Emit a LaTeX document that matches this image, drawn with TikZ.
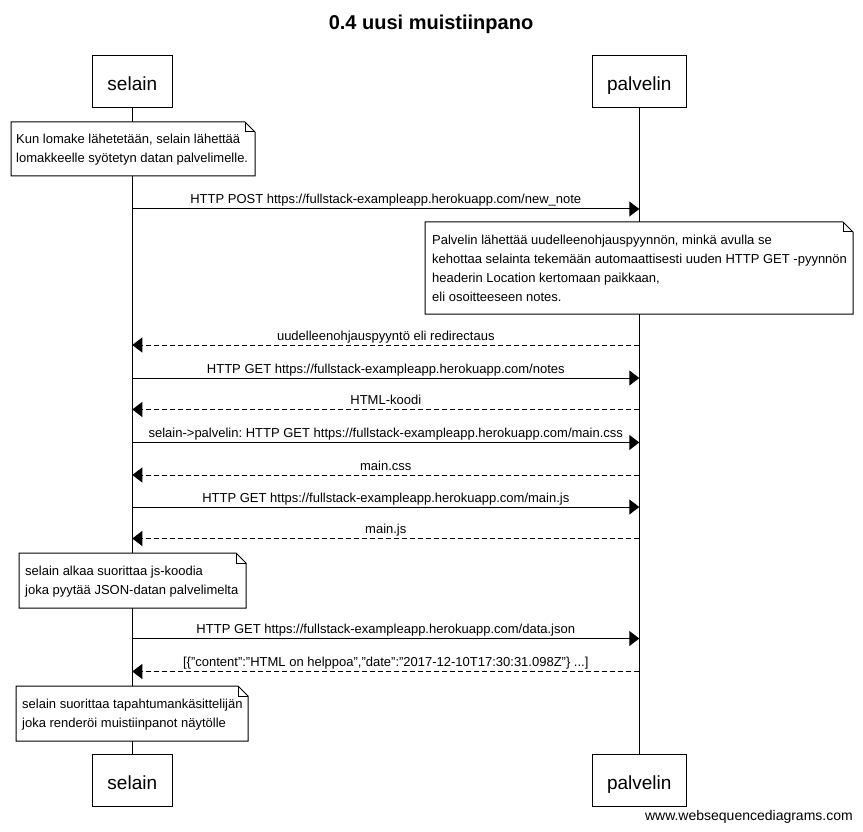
\documentclass[tikz,border=0pt]{standalone}
\usepackage{fontspec}
\setmainfont{Liberation Sans}
\usetikzlibrary{arrows.meta}
\frenchspacing
\begin{document}
\begin{tikzpicture}[x=1pt,y=-1pt,
  every node/.style={inner sep=0pt},
  pbox/.style={draw=black,line width=1pt,fill=white,minimum height=52pt,
    font=\fontsize{19}{22}\selectfont,text height=17pt,text depth=0pt},
  lifeline/.style={draw=black,line width=1pt},
  notebox/.style={draw=black,line width=1pt,fill=white},
  notetext/.style={anchor=base west,font=\fontsize{13}{19}\selectfont},
  msgtext/.style={anchor=base,font=\fontsize{13}{16}\selectfont},
  msg/.style={draw=black,line width=1pt,-{Triangle[length=10pt,width=15pt]}},
  reply/.style={msg,dash pattern=on 5pt off 3pt}
]
\useasboundingbox (0,0) rectangle (863,832);
\fill[white] (0,0) rectangle (863,832);
\def\sx{132.3}
\def\px{639.3}
\def\mx{385.8}

% title
\node[anchor=base,font=\fontsize{20}{24}\selectfont\bfseries] (title) at (431,29.5) {0.4 uusi muistiinpano};

% participants
\node[pbox,minimum width=80pt] (selT) at (\sx,82) {selain};
\node[pbox,minimum width=94pt] (palT) at (\px,82) {palvelin};
\node[pbox,minimum width=80pt] (selB) at (\sx,780.5) {selain};
\node[pbox,minimum width=94pt] (palB) at (\px,780.5) {palvelin};

% lifelines
\draw[lifeline] (selT.south) -- (selB.north);
\draw[lifeline] (palT.south) -- (palB.north);

% note 1
\draw[notebox] (11,122) -- (245,122) -- (255,132) -- (255,176) -- (11,176) -- cycle;
\draw[line width=1pt] (245,122) -- (245,132) -- (255,132);
\node[notetext] (n1a) at (16,143.5) {Kun lomake lähetetään, selain lähettää};
\node[notetext] (n1b) at (16,162.5) {lomakkeelle syötetyn datan palvelimelle.};

% message 1
\coordinate (s1) at (\sx,209); \coordinate (p1) at (\px,209);
\draw[msg] (s1) -- (p1);
\node[msgtext] (m1) at (\mx,204) {HTTP POST https://fullstack-exampleapp.herokuapp.com/new\_note};

% note 2
\draw[notebox] (425,222) -- (843,222) -- (853,232) -- (853,314) -- (425,314) -- cycle;
\draw[line width=1pt] (843,222) -- (843,232) -- (853,232);
\node[notetext] (n2a) at (432,244) {Palvelin lähettää uudelleenohjauspyynnön, minkä avulla se};
\node[notetext] (n2b) at (432,263) {kehottaa selainta tekemään automaattisesti uuden HTTP GET -pyynnön};
\node[notetext] (n2c) at (432,282) {headerin Location kertomaan paikkaan,};
\node[notetext] (n2d) at (432,301) {eli osoitteeseen notes.};

% messages 2-8
\coordinate (s2) at (\sx,345); \coordinate (p2) at (\px,345);
\draw[reply] (p2) -- (s2);
\node[msgtext] (m2) at (\mx,340) {uudelleenohjauspyyntö eli redirectaus};

\coordinate (s3) at (\sx,378); \coordinate (p3) at (\px,378);
\draw[msg] (s3) -- (p3);
\node[msgtext] (m3) at (\mx,373) {HTTP GET https://fullstack-exampleapp.herokuapp.com/notes};

\coordinate (s4) at (\sx,409.5); \coordinate (p4) at (\px,409.5);
\draw[reply] (p4) -- (s4);
\node[msgtext] (m4) at (\mx,404.5) {HTML-koodi};

\coordinate (s5) at (\sx,442.5); \coordinate (p5) at (\px,442.5);
\draw[msg] (s5) -- (p5);
\node[msgtext] (m5) at (\mx,437.5) {selain->palvelin: HTTP GET https://fullstack-exampleapp.herokuapp.com/main.css};

\coordinate (s6) at (\sx,475); \coordinate (p6) at (\px,475);
\draw[reply] (p6) -- (s6);
\node[msgtext] (m6) at (\mx,470) {main.css};

\coordinate (s7) at (\sx,507); \coordinate (p7) at (\px,507);
\draw[msg] (s7) -- (p7);
\node[msgtext] (m7) at (\mx,502) {HTTP GET https://fullstack-exampleapp.herokuapp.com/main.js};

\coordinate (s8) at (\sx,538.5); \coordinate (p8) at (\px,538.5);
\draw[reply] (p8) -- (s8);
\node[msgtext] (m8) at (\mx,533.5) {main.js};

% note 3
\draw[notebox] (19,553) -- (236,553) -- (246,563) -- (246,608) -- (19,608) -- cycle;
\draw[line width=1pt] (236,553) -- (236,563) -- (246,563);
\node[notetext] (n3a) at (25,575) {selain alkaa suorittaa js-koodia};
\node[notetext] (n3b) at (25,594) {joka pyytää JSON-datan palvelimelta};

% messages 9-10
\coordinate (s9) at (\sx,638.5); \coordinate (p9) at (\px,638.5);
\draw[msg] (s9) -- (p9);
\node[msgtext] (m9) at (\mx,633.5) {HTTP GET https://fullstack-exampleapp.herokuapp.com/data.json};

\coordinate (s10) at (\sx,671.5); \coordinate (p10) at (\px,671.5);
\draw[reply] (p10) -- (s10);
\node[msgtext] (m10) at (\mx,666.5) {[\{"content":"HTML on helppoa","date":"2017-12-10T17:30:31.098Z"\} ...]};

% note 4
\draw[notebox] (16,686) -- (238,686) -- (248,696) -- (248,741) -- (16,741) -- cycle;
\draw[line width=1pt] (238,686) -- (238,696) -- (248,696);
\node[notetext] (n4a) at (22,708) {selain suorittaa tapahtumankäsittelijän};
\node[notetext] (n4b) at (22,727) {joka renderöi muistiinpanot näytölle};

% watermark
\node[anchor=base east,font=\fontsize{14}{16}\selectfont] (wm) at (853,820) {www.websequencediagrams.com};
\end{tikzpicture}
\end{document}
